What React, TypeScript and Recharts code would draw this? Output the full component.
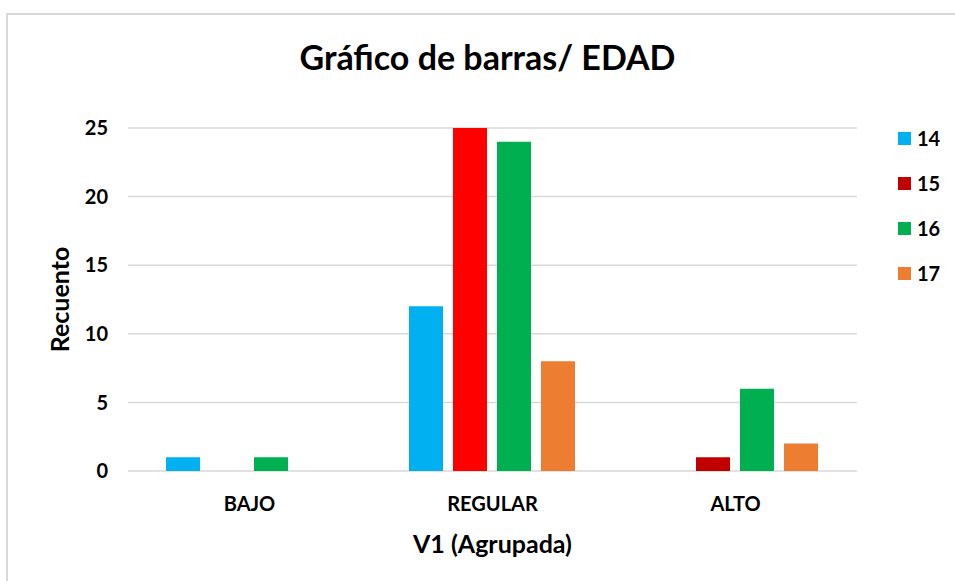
import React from 'react';
import { BarChart, Bar, XAxis, YAxis, CartesianGrid, Cell } from 'recharts';

const categories = ['BAJO', 'REGULAR', 'ALTO'];
const seriesNames = ['14', '15', '16', '17'];
const values14 = [1, 12, 0];
const values15 = [0, 25, 1];
const values16 = [1, 24, 6];
const values17 = [0, 8, 2];
const seriesColors = ['#00B0F0', '#C00000', '#00B050', '#ED7D31'];
// the REGULAR bar of "15" is drawn in a brighter red than the rest of its series
const highlight15 = ['#C00000', '#FF0000', '#C00000'];
const yTicks = [0, 5, 10, 15, 20, 25];

const seriesValues = [values14, values15, values16, values17];
const data = categories.map((name, i) => {
  const row: Record<string, string | number> = { name };
  seriesNames.forEach((s, j) => {
    row[s] = seriesValues[j][i];
  });
  return row;
});

const FONT = 'Lato, "DejaVu Sans", sans-serif';

export default function App() {
  return (
    <div style={{ position: 'absolute', left: 0, top: 0, width: 955, height: 581, overflow: 'hidden', background: '#fff', fontFamily: FONT }}>
      <div style={{ position: 'absolute', left: 6, top: 13, width: 1000, height: 1000, border: '2px solid #D9D9D9' }} />
      <div style={{ position: 'absolute', left: 0, top: 36, width: 975, textAlign: 'center', fontSize: 34, fontWeight: 700, color: '#000' }}>
        Gráfico de barras/ EDAD
      </div>
      <div style={{ position: 'absolute', left: 0, top: 0 }}>
        <BarChart
          width={955}
          height={581}
          data={data}
          margin={{ top: 128, right: 98, bottom: 0, left: 0 }}
          barGap={10}
          barCategoryGap={38}
        >
          <CartesianGrid vertical={false} stroke="#D9D9D9" strokeWidth={1.5} />
          <XAxis
            dataKey="name"
            height={110}
            axisLine={false}
            tickLine={false}
            tickMargin={20}
            tick={{ fill: '#000', fontSize: 20, fontWeight: 700, fontFamily: FONT }}
            label={{ value: 'V1 (Agrupada)', position: 'insideBottom', offset: 28, fill: '#000', fontSize: 25, fontWeight: 700, fontFamily: FONT }}
          />
          <YAxis
            width={128}
            domain={[0, 25]}
            ticks={yTicks}
            axisLine={false}
            tickLine={false}
            tickMargin={14}
            tick={{ fill: '#000', fontSize: 20, fontWeight: 700, fontFamily: FONT }}
            label={{ value: 'Recuento', angle: -90, position: 'center', dx: -4, fill: '#000', fontSize: 25, fontWeight: 700, fontFamily: FONT }}
          />
          {seriesNames.map((s, j) => (
            <Bar key={s} dataKey={s} fill={seriesColors[j]} isAnimationActive={false}>
              {j === 1 && categories.map((c, i) => <Cell key={c} fill={highlight15[i]} />)}
            </Bar>
          ))}
        </BarChart>
      </div>
      <div style={{ position: 'absolute', left: 898, top: 126 }}>
        {seriesNames.map((s, j) => (
          <div key={s} style={{ display: 'flex', alignItems: 'center', height: 24, marginBottom: 21 }}>
            <span style={{ display: 'inline-block', width: 13, height: 13, background: seriesColors[j], marginRight: 6 }} />
            <span style={{ fontSize: 20, fontWeight: 700, color: '#000' }}>{s}</span>
          </div>
        ))}
      </div>
    </div>
  );
}
